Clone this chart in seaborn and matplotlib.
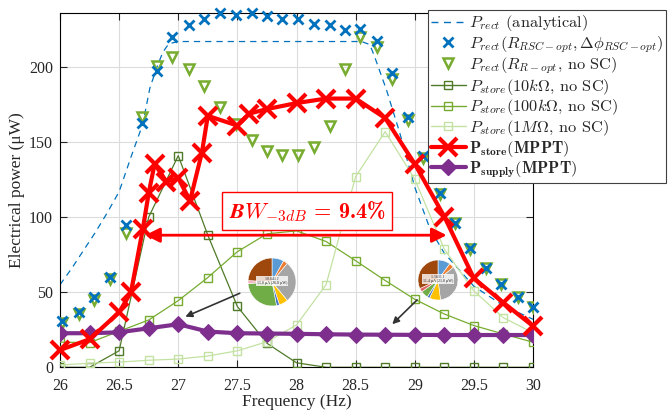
import numpy as np
import pandas as pd
import matplotlib
matplotlib.use("Agg")
import matplotlib.pyplot as plt
from matplotlib.lines import Line2D
import seaborn as sns

# ---------------- data ----------------
f_rect = [26.02, 26.16, 26.29, 26.42, 26.56, 26.69, 26.82, 26.95, 27.09, 27.22, 27.35,
          27.49, 27.62, 27.75, 27.88, 28.01, 28.15, 28.28, 28.41, 28.54, 28.68, 28.81,
          28.94, 29.07, 29.21, 29.34, 29.47, 29.60, 29.73, 29.87, 30.0]
p_rect_rsc = [31, 36.7, 46.7, 60, 95, 163, 197.5, 220, 228, 232, 236, 235, 236, 234, 232,
              232, 229, 228, 225, 225.5, 217.5, 196, 166.7, 141, 116, 96.4, 79.3, 66,
              55.5, 47, 40.4]
p_rect_nosc = [29.3, 35.5, 45, 58.7, 89.3, 166.7, 200.4, 207, 199, 187.5, 173.7, 162,
               151.5, 144.4, 141.5, 141.5, 147, 161, 198.7, 220, 213.3, 192, 165, 139.3,
               115.5, 96, 78.7, 66, 55.5, 46.7, 40]

f_an = [26.0, 26.1, 26.2, 26.3, 26.4, 26.5, 26.6, 26.7, 26.76, 26.82, 26.87, 26.92, 27.0,
        28.55, 28.62, 28.66, 28.76, 28.87, 29.0, 29.13, 29.25, 29.5, 29.75, 30.0]
p_an = [55, 66, 78, 90, 103, 117, 140, 162, 186, 200, 210, 215.5, 217,
        217, 215, 207, 185, 157, 120, 92, 76, 54, 41, 32]

f_store = [26.0, 26.25, 26.5, 26.75, 27.0, 27.25, 27.5, 27.75, 28.0, 28.25, 28.5, 28.75,
           29.0, 29.25, 29.5, 29.75, 30.0]
p_10k = [0, 0, 11, 100, 141, 88, 40.5, 16, 3, 0, 0, 0, 0, 0, 0, 0, 0]
p_100k = [16.8, 16.4, 24, 31.5, 44.4, 59.8, 77, 88.9, 90.9, 83.8, 71, 57.8, 45.3, 35.5,
          27.8, 22.2, 16.7]
p_1M = [1.5, 2.7, 3.5, 4.7, 5.5, 7.5, 11, 17, 28.2, 55, 127, 157, 125.3, 78.7, 50.9, 33, 23]
p_supply = [22.7, 22.7, 23.3, 26, 28.7, 23.8, 22.7, 22.5, 22.3, 22, 21.8, 21.7, 21.6, 21.5,
            21.5, 21.5, 21.5]

f_mppt = [26.0, 26.25, 26.5, 26.6, 26.7, 26.75, 26.8, 26.9, 27.0, 27.1, 27.2, 27.25, 27.5,
          27.6, 27.75, 28.0, 28.25, 28.5, 28.75, 29.0, 29.25, 29.5, 29.75, 30.0]
p_mppt = [11.5, 18.7, 36.6, 50, 92, 116, 135.5, 123.7, 126, 111, 143, 167.5, 161, 169,
          172, 176, 179, 179, 166, 135.5, 100.4, 59.3, 43, 27.5]

pie1_vals = [8, 3, 28, 6, 2, 27, 2, 24]
pie1_cols = ['#5B9BD5', '#ED7D31', '#A5A5A5', '#FFC000', '#4472C4', '#70AD47', '#F4B6C2', '#9E480E']
pie2_vals = [10, 4, 34, 9, 2, 6, 3, 32]
pie2_cols = ['#5B9BD5', '#ED7D31', '#A5A5A5', '#FFC000', '#4472C4', '#70AD47', '#E06666', '#9E480E']

# ---------------- style ----------------
sns.set_style("ticks")
plt.rcParams['font.family'] = ['Liberation Serif', 'DejaVu Serif']
plt.rcParams['mathtext.fontset'] = 'cm'

C_BLUE = '#0072BD'
C_TRI = '#77AC30'
C_10K = '#4F7A28'
C_100K = '#77AC30'
C_1M = '#C3E2A2'
C_RED = '#FF0000'
C_PUR = '#7E2F8E'

fig = plt.figure(figsize=(6.71, 4.11), dpi=100)
ax = fig.add_axes([60/671, 1-367.3/411, (533-60)/671, (367.3-13)/411])

sns.lineplot(x=f_an, y=p_an, ax=ax, color=C_BLUE, lw=0.9, linestyle=(0, (5, 4)), zorder=2)
for yv, col in [(p_10k, C_10K), (p_100k, C_100K), (p_1M, C_1M)]:
    sns.lineplot(x=f_store, y=yv, ax=ax, color=col, lw=0.9, marker='s', markersize=6,
                 markerfacecolor='none', markeredgecolor=col, markeredgewidth=1, zorder=3)
sns.lineplot(x=f_rect, y=p_rect_nosc, ax=ax, color=C_TRI, linestyle='none', marker='v',
             markersize=7.5, markerfacecolor='none', markeredgecolor=C_TRI,
             markeredgewidth=1.8, zorder=4)
sns.lineplot(x=f_rect, y=p_rect_rsc, ax=ax, color=C_BLUE, linestyle='none', marker='x',
             markersize=6.5, markeredgecolor=C_BLUE, markeredgewidth=2, zorder=4, clip_on=False)
sns.lineplot(x=f_store, y=p_supply, ax=ax, color=C_PUR, lw=3, marker='D', markersize=8.5,
             markerfacecolor=C_PUR, markeredgecolor=C_PUR, zorder=5)
sns.lineplot(x=f_mppt, y=p_mppt, ax=ax, color=C_RED, lw=3, marker='x', markersize=13,
             markeredgecolor=C_RED, markeredgewidth=3, zorder=6, clip_on=False)

ax.set_xlim(26, 30)
ax.set_ylim(0, 236)
ax.set_xticks([26, 26.5, 27, 27.5, 28, 28.5, 29, 29.5, 30])
ax.set_xticklabels(['26', '26.5', '27', '27.5', '28', '28.5', '29', '29.5', '30'])
ax.set_yticks([0, 50, 100, 150, 200])
ax.tick_params(direction='in', top=True, right=True, labelsize=11.5, length=5, width=0.8)
ax.tick_params(axis='x', pad=8)
ax.tick_params(axis='y', pad=5)
ax.grid(True, color='#dcdcdc', lw=0.8)
ax.set_axisbelow(True)
for s in ax.spines.values():
    s.set_color('black')
    s.set_linewidth(0.8)
ax.set_xlabel('Frequency (Hz)', fontsize=12.5, labelpad=0)
ax.set_ylabel('Electrical power (\u03bcW)', fontsize=12.5, labelpad=3)

# bandwidth annotation
ax.annotate('', xy=(26.72, 88), xytext=(29.27, 88),
            arrowprops=dict(arrowstyle='<|-|>', color=C_RED, lw=2, mutation_scale=22,
                            shrinkA=0, shrinkB=0), zorder=7)
ax.text(28.09, 104, r"$\boldsymbol{BW_{-3dB}}$ = 9.4%", color=C_RED, fontsize=16,
        family=['cmb10', 'DejaVu Serif'], ha='center', va='center', zorder=8,
        bbox=dict(boxstyle='square,pad=0.3', fc='white', ec=C_RED, lw=1))

# grey arrows
for (x0, y0, x1, y1) in [(27.52, 49.3, 27.06, 33.7), (29.02, 44.9, 28.81, 28.7)]:
    ax.annotate('', xy=(x1, y1), xytext=(x0, y0),
                arrowprops=dict(arrowstyle='-|>', color='#333333', lw=1.2, mutation_scale=10,
                                shrinkA=0, shrinkB=0), zorder=7)

# pie insets
def add_pie(cx, cy, r, vals, cols, label):
    w, h = 2*r/671, 2*r/411
    pax = fig.add_axes([cx/671 - w/2, 1 - cy/411 - h/2, w, h])
    pax.pie(vals, colors=cols, startangle=90, counterclock=False, radius=1,
            wedgeprops=dict(linewidth=0.4, edgecolor='white'))
    pax.set_xlim(-1.0, 1.0)
    pax.set_ylim(-1.0, 1.0)
    pax.set_aspect('equal')
    pax.text(0, 0.05, label, fontsize=2.9, ha='center', va='center',
             bbox=dict(boxstyle='square,pad=0.2', fc='white', ec='none', alpha=0.8))
    pax.set_zorder(9)

add_pie(272, 282, 24, pie1_vals, pie1_cols, '10.641 J\n15.8 \u00b5A (26.8 \u00b5W)')
add_pie(438, 280, 20, pie2_vals, pie2_cols, '1.5611 J\n11.4 \u00b5A (21.8 \u00b5W)')

# legend
handles = [
    Line2D([], [], color=C_BLUE, lw=1, linestyle=(0, (5, 4))),
    Line2D([], [], color=C_BLUE, linestyle='none', marker='x', markersize=6.5, markeredgewidth=2),
    Line2D([], [], color=C_TRI, linestyle='none', marker='v', markersize=7.5,
           markerfacecolor='none', markeredgewidth=1.8),
    Line2D([], [], color=C_10K, lw=1, marker='s', markersize=6, markerfacecolor='none'),
    Line2D([], [], color=C_100K, lw=1, marker='s', markersize=6, markerfacecolor='none'),
    Line2D([], [], color=C_1M, lw=1, marker='s', markersize=6, markerfacecolor='none'),
    Line2D([], [], color=C_RED, lw=3, marker='x', markersize=13, markeredgewidth=3),
    Line2D([], [], color=C_PUR, lw=3, marker='D', markersize=8.5),
]
labels = [
    r'$P_{rect}$ (analytical)',
    r'$P_{rect}(R_{RSC-opt},\Delta\phi_{RSC-opt})$',
    r'$P_{rect}(R_{R-opt}$, no SC)',
    r'$P_{store}(10k\Omega$, no SC)',
    r'$P_{store}(100k\Omega$, no SC)',
    r'$P_{store}(1M\Omega$, no SC)',
    r'$\mathbf{P_{store}(MPPT)}$',
    r'$\mathbf{P_{supply}(MPPT)}$',
]
leg = fig.legend(handles, labels, loc='upper left', bbox_to_anchor=(428/671, 1 - 10/411),
                 frameon=True, fancybox=False, framealpha=1, edgecolor='#404040',
                 handlelength=2.1, handletextpad=0.2, labelspacing=0.04, borderpad=0.2,
                 borderaxespad=0, prop={'family': ['cmr10', 'DejaVu Serif'], 'size': 11.8})
leg.get_frame().set_linewidth(0.8)
leg.set_zorder(20)

fig.savefig('out.png', dpi=100)
